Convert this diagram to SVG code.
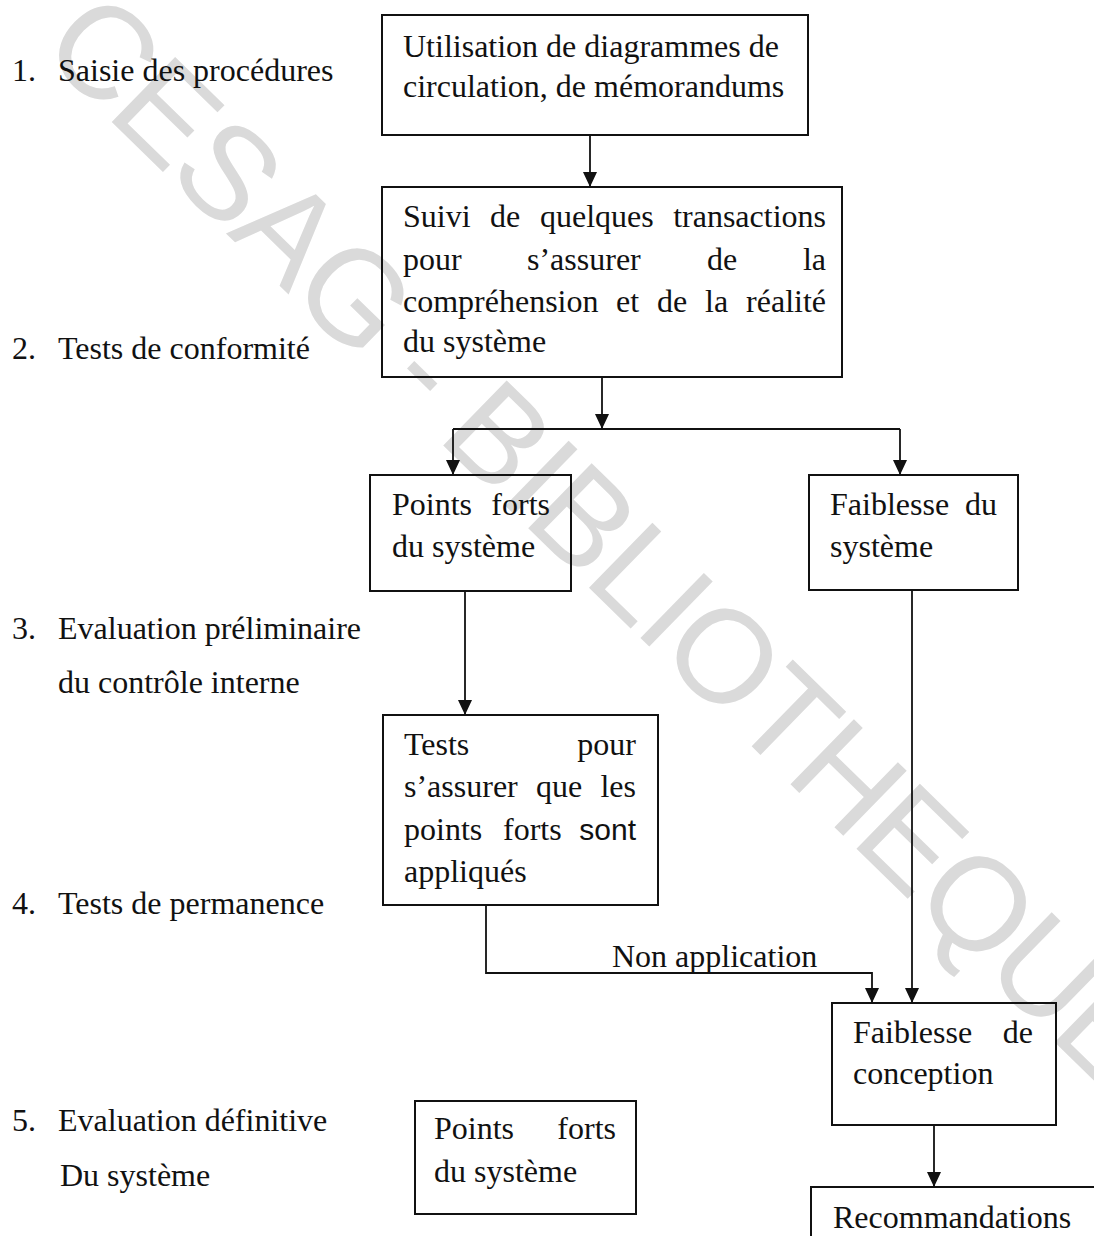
<svg xmlns="http://www.w3.org/2000/svg" width="1094" height="1236" viewBox="0 0 1094 1236">
  <style>
    .t { font-family: "Liberation Serif", "Times New Roman", serif; font-size: 32px; fill: #111; }
    .sans { font-family: "Liberation Sans", Arial, sans-serif; font-size: 30px; fill: #111; }
    .end { text-anchor: end; }
    .box { fill: none; stroke: #111; stroke-width: 2; }
    .link { fill: none; stroke: #111; stroke-width: 1.8; }
    .wm { font-family: "Liberation Sans", Arial, sans-serif; font-size: 132px; letter-spacing: -3px; fill: #dadada; }
  </style>
  <defs>
    <marker id="head" markerUnits="userSpaceOnUse" markerWidth="16" markerHeight="14" refX="15" refY="7" orient="auto">
      <path d="M0,0 L15,7 L0,14 Z" fill="#111"/>
    </marker>
  </defs>
  <rect width="1094" height="1236" fill="#fff"/>

  <!-- diagonal library stamp -->
  <g id="watermark">
    <text class="wm" transform="translate(38,50) rotate(44.3)">CESAG - BIBLIOTHEQUE</text>
  </g>

  <!-- step labels on the left -->
  <g id="steps">
    <text class="t" x="12" y="81">1.</text><text class="t" x="58" y="81">Saisie des procédures</text>
    <text class="t" x="12" y="359">2.</text><text class="t" x="58" y="359">Tests de conformité</text>
    <text class="t" x="12" y="639">3.</text><text class="t" x="58" y="639">Evaluation préliminaire</text>
    <text class="t" x="58" y="693">du contrôle interne</text>
    <text class="t" x="12" y="914">4.</text><text class="t" x="58" y="914">Tests de permanence</text>
    <text class="t" x="12" y="1131">5.</text><text class="t" x="58" y="1131">Evaluation définitive</text>
    <text class="t" x="60" y="1186">Du système</text>
  </g>

  <!-- connectors -->
  <g id="connectors">
    <line class="link" x1="590" y1="135" x2="590" y2="187" marker-end="url(#head)"/>
    <line class="link" x1="602" y1="377" x2="602" y2="429" marker-end="url(#head)"/>
    <line class="link" x1="453" y1="429" x2="900" y2="429"/>
    <line class="link" x1="453" y1="429" x2="453" y2="475" marker-end="url(#head)"/>
    <line class="link" x1="900" y1="429" x2="900" y2="475" marker-end="url(#head)"/>
    <line class="link" x1="465" y1="591" x2="465" y2="715" marker-end="url(#head)"/>
    <line class="link" x1="912" y1="590" x2="912" y2="1003" marker-end="url(#head)"/>
    <polyline class="link" points="486,905 486,973 872,973 872,1003" marker-end="url(#head)"/>
    <line class="link" x1="934" y1="1125" x2="934" y2="1187" marker-end="url(#head)"/>
    <text class="t" x="612" y="967">Non application</text>
  </g>

  <g id="n-saisie">
    <rect class="box" x="382" y="15" width="426" height="120"/>
    <text class="t" x="403" y="57">Utilisation de diagrammes de</text>
    <text class="t" x="403" y="97">circulation, de mémorandums</text>
  </g>

  <g id="n-suivi">
    <rect class="box" x="382" y="187" width="460" height="190"/>
    <text class="t" x="403" y="227">Suivi</text>
    <text class="t" x="490" y="227">de</text>
    <text class="t" x="540" y="227">quelques</text>
    <text class="t end" x="826" y="227">transactions</text>
    <text class="t" x="403" y="270">pour</text>
    <text class="t" x="527" y="270">s’assurer</text>
    <text class="t" x="707" y="270">de</text>
    <text class="t end" x="826" y="270">la</text>
    <text class="t" x="403" y="312">compréhension</text>
    <text class="t" x="616" y="312">et</text>
    <text class="t" x="657" y="312">de</text>
    <text class="t" x="705" y="312">la</text>
    <text class="t end" x="826" y="312">réalité</text>
    <text class="t" x="403" y="352">du système</text>
  </g>

  <g id="n-points-forts">
    <rect class="box" x="370" y="475" width="201" height="116"/>
    <text class="t" x="392" y="515">Points</text>
    <text class="t end" x="550" y="515">forts</text>
    <text class="t" x="392" y="557">du système</text>
  </g>

  <g id="n-faiblesse">
    <rect class="box" x="809" y="475" width="209" height="115"/>
    <text class="t" x="830" y="515">Faiblesse</text>
    <text class="t end" x="997" y="515">du</text>
    <text class="t" x="830" y="557">système</text>
  </g>

  <g id="n-tests">
    <rect class="box" x="383" y="715" width="275" height="190"/>
    <text class="t" x="404" y="755">Tests</text>
    <text class="t end" x="636" y="755">pour</text>
    <text class="t" x="404" y="797">s’assurer</text>
    <text class="t" x="536" y="797">que</text>
    <text class="t end" x="636" y="797">les</text>
    <text class="t" x="404" y="840">points</text>
    <text class="t" x="503" y="840">forts</text>
    <text class="sans end" x="636" y="840">sont</text>
    <text class="t" x="404" y="882">appliqués</text>
  </g>

  <g id="n-conception">
    <rect class="box" x="832" y="1003" width="224" height="122"/>
    <text class="t" x="853" y="1043">Faiblesse</text>
    <text class="t end" x="1033" y="1043">de</text>
    <text class="t" x="853" y="1084">conception</text>
  </g>

  <g id="n-points-forts-final">
    <rect class="box" x="415" y="1101" width="221" height="113"/>
    <text class="t" x="434" y="1139">Points</text>
    <text class="t end" x="616" y="1139">forts</text>
    <text class="t" x="434" y="1182">du système</text>
  </g>

  <g id="n-recommandations">
    <rect class="box" x="811" y="1187" width="300" height="80"/>
    <text class="t" x="833" y="1228">Recommandations</text>
  </g>
</svg>
